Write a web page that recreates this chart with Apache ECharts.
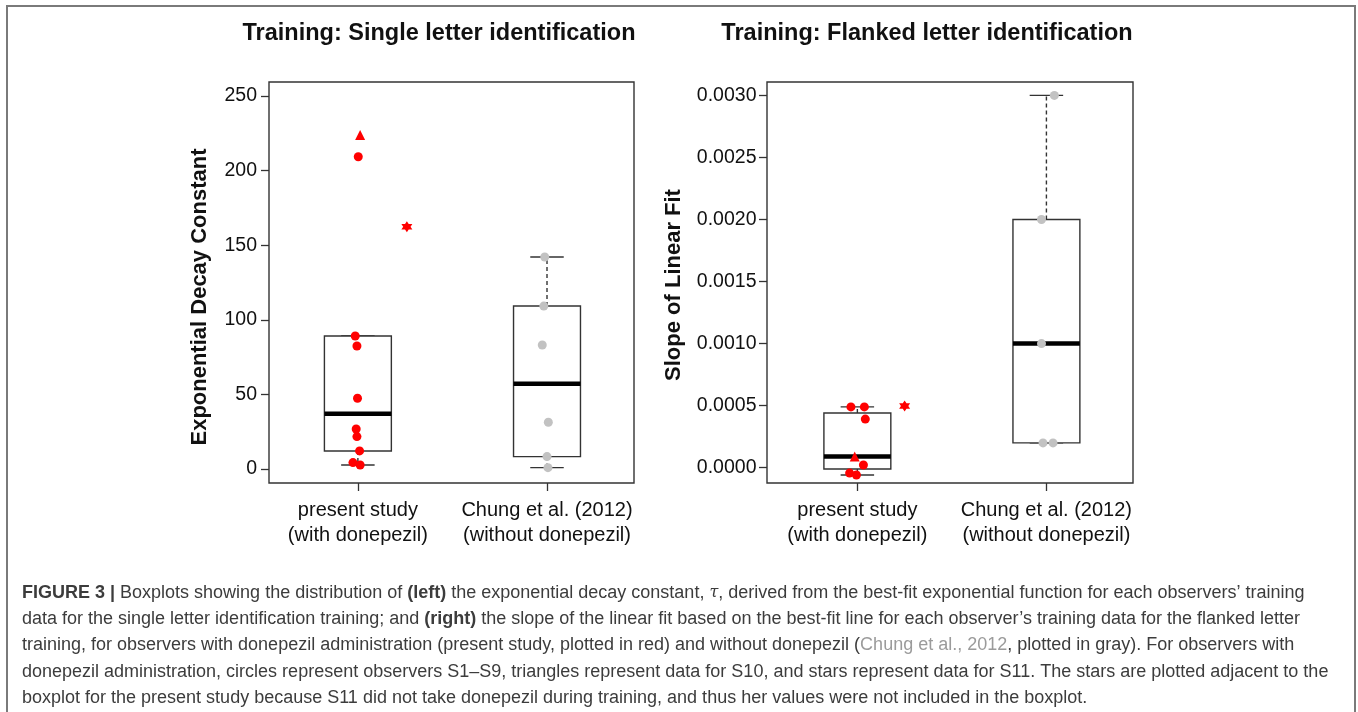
<!DOCTYPE html>
<html><head><meta charset="utf-8">
<script src="https://cdn.jsdelivr.net/npm/echarts@6/dist/echarts.min.js"></script>
<style>html,body{margin:0;padding:0;background:#fff}#c{width:1358px;height:712px}</style>
</head><body><div id="c"></div>
<script>
// ---------- data ----------
const groups = ['present study\n(with donepezil)', 'Chung et al. (2012)\n(without donepezil)'];

// Left panel: exponential decay constant
const leftPresentCircles  = [209.3, 89.1, 82.4, 47.4, 26.8, 21.7, 12.1, 4.3, 2.7];
const leftPresentCirclesX = [1.002, 0.986, 0.995, 0.998, 0.991, 0.995, 1.009, 0.974, 1.012];
const leftPresentTriangle  = [223.9];
const leftPresentTriangleX = [1.012];
const leftPresentStar  = [162.4];
const leftPresentStarX = [1.259];
const leftChung  = [142.1, 109.2, 83.1, 31.3, 8.3, 0.9];
const leftChungX = [1.988, 1.983, 1.975, 2.007, 2.000, 2.005];
const leftTicks = [0, 50, 100, 150, 200, 250];

// Right panel: slope of linear fit
const rightPresentCircles  = [0.00049, 0.00049, 0.000392, 0.000022, -0.000043, -0.000059];
const rightPresentCirclesX = [0.966, 1.037, 1.042, 1.032, 0.959, 0.995];
const rightPresentTriangle  = [0.000091];
const rightPresentTriangleX = [0.986];
const rightPresentStar  = [0.000497];
const rightPresentStarX = [1.25];
const rightChung  = [0.0030, 0.0020, 0.0010, 0.0002, 0.0002];
const rightChungX = [2.042, 1.974, 1.974, 1.982, 2.035];
const rightTicks = [0, 0.0005, 0.0010, 0.0015, 0.0020, 0.0025, 0.0030];

// ---------- helpers ----------
function fivenum(arr) {
  const x = arr.slice().sort((a, b) => a - b), n = x.length;
  const n4 = Math.floor((n + 3) / 2) / 2;
  const d = [1, n4, (n + 1) / 2, n + 1 - n4, n];
  return d.map(v => 0.5 * (x[Math.floor(v) - 1] + x[Math.ceil(v) - 1]));
}
function boxStats(arr) {
  const f = fivenum(arr), iqr = f[3] - f[1];
  const lo = f[1] - 1.5 * iqr, hi = f[3] + 1.5 * iqr;
  const inside = arr.filter(v => v >= lo && v <= hi);
  return [Math.min(...inside), f[1], f[2], f[3], Math.max(...inside)];
}
const pairs = (xs, ys) => ys.map((v, i) => [xs[i], v]);

const FONT = 'Liberation Sans, Arial, Helvetica, sans-serif';
const RED = '#ff0000', GRAY = '#c2c2c2', INK = '#333333';
const BOXW = 0.354;
const STAR = 'path://M0,-10L2.9,-5L8.66,-5L5.8,0L8.66,5L2.9,5L0,10L-2.9,5L-8.66,5L-5.8,0L-8.66,-5L-2.9,-5Z';

function boxRender(params, api) {
  const x = api.value(0);
  const lo = api.value(1), q1 = api.value(2), med = api.value(3), q3 = api.value(4), hi = api.value(5);
  const half = api.size([BOXW, 0])[0] / 2;
  const cx = api.coord([x, med])[0];
  const y = v => api.coord([x, v])[1];
  const cap = half / 2;
  const lw = 1.4;
  return {
    type: 'group', children: [
      { type: 'line', shape: { x1: cx, y1: y(q3), x2: cx, y2: y(hi) }, style: { stroke: INK, lineWidth: lw, lineDash: [4, 3] } },
      { type: 'line', shape: { x1: cx, y1: y(q1), x2: cx, y2: y(lo) }, style: { stroke: INK, lineWidth: lw, lineDash: [4, 3] } },
      { type: 'line', shape: { x1: cx - cap, y1: y(hi), x2: cx + cap, y2: y(hi) }, style: { stroke: INK, lineWidth: lw } },
      { type: 'line', shape: { x1: cx - cap, y1: y(lo), x2: cx + cap, y2: y(lo) }, style: { stroke: INK, lineWidth: lw } },
      { type: 'rect', shape: { x: cx - half, y: y(q3), width: 2 * half, height: y(q1) - y(q3) }, style: { fill: '#fff', stroke: INK, lineWidth: lw } },
      { type: 'line', shape: { x1: cx - half, y1: y(med), x2: cx + half, y2: y(med) }, style: { stroke: '#000', lineWidth: 4.5 } }
    ]
  };
}

function xAxisCfg(gi, min, max) {
  return {
    gridIndex: gi, type: 'value', min: min, max: max, position: 'bottom',
    axisLine: { show: false, onZero: false }, splitLine: { show: false },
    axisTick: { show: true, customValues: [1, 2], length: 8, lineStyle: { color: INK, width: 1.3 } },
    axisLabel: { customValues: [1, 2], formatter: v => groups[Math.round(v) - 1], fontFamily: FONT, fontSize: 20, color: '#111', lineHeight: 25, margin: 15 }
  };
}
function yAxisCfg(gi, min, max, ticks, fmt, margin) {
  return {
    gridIndex: gi, type: 'value', min: min, max: max, position: 'left',
    axisLine: { show: false, onZero: false }, splitLine: { show: false },
    axisTick: { show: true, customValues: ticks, length: 8, lineStyle: { color: INK, width: 1.3 } },
    axisLabel: { customValues: ticks, formatter: fmt, fontFamily: FONT, fontSize: 19.5, color: '#111', margin: margin }
  };
}
function pointSeries(gi, data, symbol, size, color) {
  return { type: 'scatter', xAxisIndex: gi, yAxisIndex: gi, data: data, symbol: symbol, symbolSize: size, itemStyle: { color: color, opacity: 1 }, z: 5, silent: true };
}

const capText = [
  '{b|FIGURE 3 |}{n| Boxplots showing the distribution of }{b|(left)}{n| the exponential decay constant, }{i|τ}{n|, derived from the best-fit exponential function for each observers’ training}',
  '{n|data for the single letter identification training; and }{b|(right)}{n| the slope of the linear fit based on the best-fit line for each observer’s training data for the flanked letter}',
  '{n|training, for observers with donepezil administration (present study, plotted in red) and without donepezil (}{g|Chung et al., 2012}{n|, plotted in gray). For observers with}',
  '{n|donepezil administration, circles represent observers S1–S9, triangles represent data for S10, and stars represent data for S11. The stars are plotted adjacent to the}',
  '{n|boxplot for the present study because S11 did not take donepezil during training, and thus her values were not included in the boxplot.}'
];
const CAPINK = '#3c3c3c';
const capRich = {
  n: { fontFamily: FONT, fontSize: 18, fill: CAPINK },
  b: { fontFamily: FONT, fontSize: 18, fill: CAPINK, fontWeight: 'bold' },
  g: { fontFamily: FONT, fontSize: 18, fill: '#9b9b9b' },
  i: { fontFamily: 'DejaVu Serif, serif', fontSize: 16, fill: CAPINK, fontStyle: 'italic' }
};
const capY = [593, 619.5, 645.5, 672, 698];

const graphic = [
  { type: 'rect', shape: { x: 7, y: 6, width: 1348, height: 730 }, style: { fill: 'none', stroke: '#7a7a7a', lineWidth: 2 }, silent: true },
  { type: 'text', x: 439, y: 34, style: { text: 'Training: Single letter identification', fontFamily: FONT, fontSize: 23.5, fontWeight: 'bold', fill: '#111', align: 'center', verticalAlign: 'middle' } },
  { type: 'text', x: 927, y: 34, style: { text: 'Training: Flanked letter identification', fontFamily: FONT, fontSize: 23.5, fontWeight: 'bold', fill: '#111', align: 'center', verticalAlign: 'middle' } },
  { type: 'text', x: 200, y: 297, rotation: Math.PI / 2, style: { text: 'Exponential Decay Constant', fontFamily: FONT, fontSize: 22, fontWeight: 'bold', fill: '#111', align: 'center', verticalAlign: 'middle' } },
  { type: 'text', x: 674, y: 285, rotation: Math.PI / 2, style: { text: 'Slope of Linear Fit', fontFamily: FONT, fontSize: 22, fontWeight: 'bold', fill: '#111', align: 'center', verticalAlign: 'middle' } }
].concat(capText.map((t, i) => ({
  type: 'text', x: 22, y: capY[i], style: { text: t, rich: capRich, fill: CAPINK, align: 'left', verticalAlign: 'middle' }
})));

const chart = echarts.init(document.getElementById('c'), null, { renderer: 'canvas' });
chart.setOption({
  animation: false,
  backgroundColor: '#fff',
  grid: [
    { left: 269, top: 82, width: 365, height: 401, show: true, borderColor: INK, borderWidth: 1.4, backgroundColor: 'transparent' },
    { left: 767, top: 82, width: 366, height: 401, show: true, borderColor: INK, borderWidth: 1.4, backgroundColor: 'transparent' }
  ],
  xAxis: [xAxisCfg(0, 0.53, 2.46), xAxisCfg(1, 0.522, 2.458)],
  yAxis: [
    yAxisCfg(0, -9.4, 259.4, leftTicks, v => String(Math.round(v)), 12),
    yAxisCfg(1, -0.000123, 0.003108, rightTicks, v => v.toFixed(4), 10.5)
  ],
  graphic: graphic,
  series: [
    { type: 'custom', xAxisIndex: 0, yAxisIndex: 0, renderItem: boxRender, silent: true, z: 2,
      encode: { x: 0, y: [1, 2, 3, 4, 5] },
      data: [[1].concat(boxStats(leftPresentCircles.concat(leftPresentTriangle))), [2].concat(boxStats(leftChung))] },
    { type: 'custom', xAxisIndex: 1, yAxisIndex: 1, renderItem: boxRender, silent: true, z: 2,
      encode: { x: 0, y: [1, 2, 3, 4, 5] },
      data: [[1].concat(boxStats(rightPresentCircles.concat(rightPresentTriangle))), [2].concat(boxStats(rightChung))] },
    pointSeries(0, pairs(leftPresentCirclesX, leftPresentCircles), 'circle', 9, RED),
    pointSeries(0, pairs(leftPresentTriangleX, leftPresentTriangle), 'triangle', 10, RED),
    pointSeries(0, pairs(leftPresentStarX, leftPresentStar), STAR, 11, RED),
    pointSeries(0, pairs(leftChungX, leftChung), 'circle', 9, GRAY),
    pointSeries(1, pairs(rightPresentCirclesX, rightPresentCircles), 'circle', 9, RED),
    pointSeries(1, pairs(rightPresentTriangleX, rightPresentTriangle), 'triangle', 10, RED),
    pointSeries(1, pairs(rightPresentStarX, rightPresentStar), STAR, 11, RED),
    pointSeries(1, pairs(rightChungX, rightChung), 'circle', 9, GRAY)
  ]
});
</script>
</body></html>
